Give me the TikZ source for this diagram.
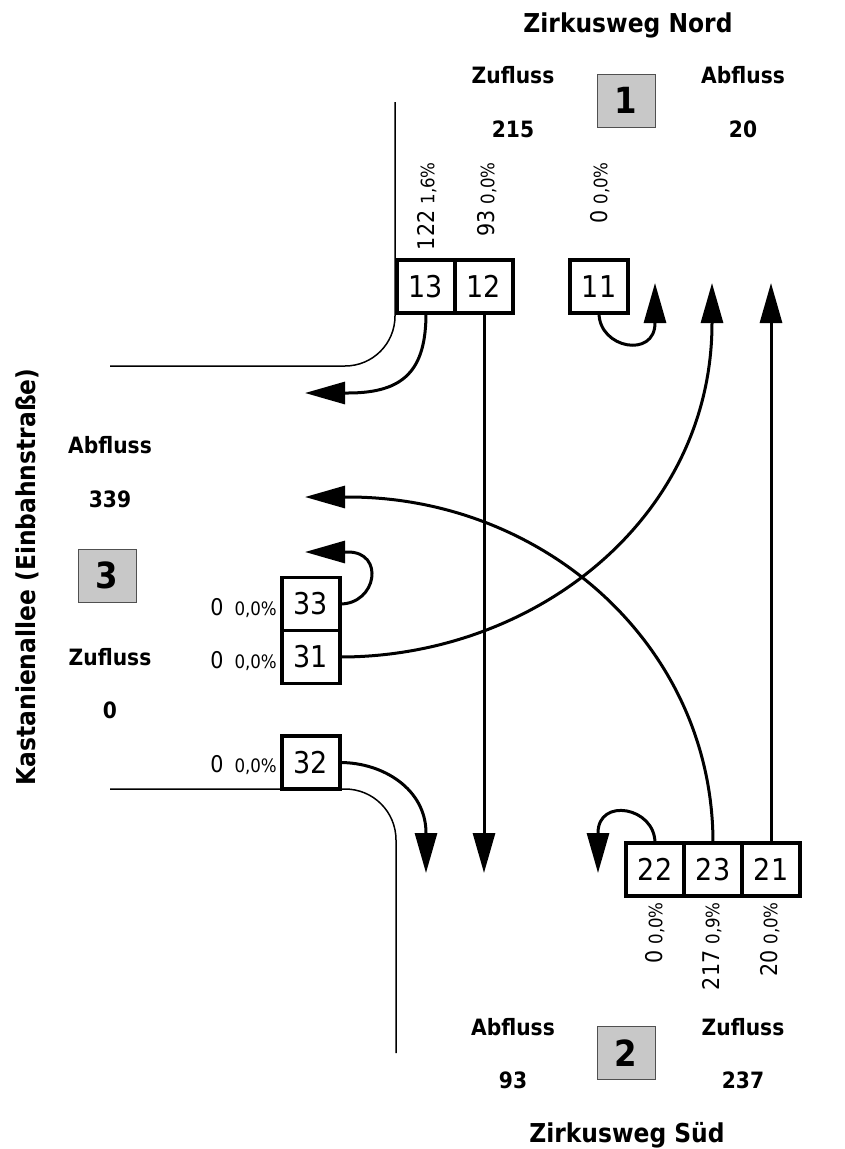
\documentclass[tikz,border=0pt]{standalone}
\usepackage{fontspec}
\setmainfont{DejaVu Sans}[FakeStretch=0.9]
\usetikzlibrary{arrows.meta,positioning}
\definecolor{ArmGray}{HTML}{C8C8C8}
\definecolor{ArmEdge}{HTML}{505050}
% vehicle count and heavy-traffic share, two sizes
\newcommand\cnt[3][6pt]{{\fontsize{23}{26}\selectfont #2}\hspace{#1}{\fontsize{18.5}{22}\selectfont #3}}

\begin{document}
\begin{tikzpicture}[x=1pt,y=1pt]
  \tikzset{
    lane/.style={draw,line width=3.5pt,fill=white,minimum width=58pt,minimum height=53pt,inner sep=0pt,outer sep=0pt,font=\fontsize{30}{32}\selectfont},
    arm/.style={draw=ArmEdge,fill=ArmGray,line width=1pt,minimum width=58pt,minimum height=53pt,inner sep=0pt,font=\fontsize{36}{38}\selectfont\bfseries},
    street/.style={font=\fontsize{26}{30}\selectfont\bfseries,inner sep=0pt,anchor=base},
    volume/.style={font=\fontsize{22.5}{26}\selectfont\bfseries,inner sep=0pt,anchor=base},
    share/.style={inner sep=0pt,rotate=90,anchor=east},
    road/.style={line width=1.5pt},
    flow/.style={line width=3pt,-{Triangle[length=40pt,width=22pt]}}
  }
  \useasboundingbox (0,0) rectangle (845,-1149);

  % kerb lines
  \draw[road] (395,-102) -- (395,-316) to[out=-90,in=0] (345,-366) -- (110,-366);
  \draw[road] (110,-789) -- (345,-789) to[out=0,in=90] (396,-840) -- (396,-1053);

  % street names
  \node[street] (nord) at (628,-32) {Zirkusweg Nord};
  \node[street] (sued) at (627,-1142) {Zirkusweg Süd};
  \node[street,rotate=90] (kast) at (35,-577) {Kastanienallee (Einbahnstraße)};

  % arms
  \node[arm] (arm1) at (626,-100.5) {1};
  \node[arm] (arm2) at (626,-1053) {2};
  \node[arm] (arm3) at (107,-575.5) {3};

  \node[volume] (zu1) at (513,-83) {Zufluss};
  \node[volume] (zu1v) at (513,-137) {215};
  \node[volume] (ab1) at (743,-83) {Abfluss};
  \node[volume] (ab1v) at (743,-137) {20};
  \node[volume] (ab2) at (513,-1035) {Abfluss};
  \node[volume] (ab2v) at (513,-1088) {93};
  \node[volume] (zu2) at (743,-1035) {Zufluss};
  \node[volume] (zu2v) at (743,-1088) {237};
  \node[volume] (ab3) at (110,-453) {Abfluss};
  \node[volume] (ab3v) at (110,-507) {339};
  \node[volume] (zu3) at (110,-665) {Zufluss};
  \node[volume] (zu3v) at (110,-718) {0};

  % lanes
  \node[lane] (l13) at (426,-286.5) {13};
  \node[lane,right=0pt of l13] (l12) {12};
  \node[lane] (l11) at (599,-286.5) {11};
  \node[lane] (l22) at (655,-869.5) {22};
  \node[lane,right=0pt of l22] (l23) {23};
  \node[lane,right=0pt of l23] (l21) {21};
  \node[lane] (l33) at (311,-604) {33};
  \node[lane,below=0pt of l33] (l31) {31};
  \node[lane] (l32) at (311,-762.5) {32};

  % counts per lane
  \node[share] (c13) at (427,-162) {\cnt{122}{1,6\%}};
  \node[share] (c12) at (487,-162) {\cnt{93}{0,0\%}};
  \node[share] (c11) at (600,-162) {\cnt{0}{0,0\%}};
  \node[share] (c22) at (655,-902) {\cnt{0}{0,0\%}};
  \node[share] (c23) at (712,-902) {\cnt{217}{0,9\%}};
  \node[share] (c21) at (770,-902) {\cnt{20}{0,0\%}};
  \node[inner sep=0pt,anchor=base east] (c33) at (277,-615) {\cnt[11pt]{0}{0,0\%}};
  \node[inner sep=0pt,anchor=base east] (c31) at (277,-668) {\cnt[11pt]{0}{0,0\%}};
  \node[inner sep=0pt,anchor=base east] (c32) at (277,-772) {\cnt[11pt]{0}{0,0\%}};

  % arrow ends
  \coordinate (e13) at (348,-393);  \coordinate (t13) at (305,-393);
  \coordinate (t12) at (484,-873);
  \coordinate (e11) at (655,-323);  \coordinate (t11) at (655,-283);
  \coordinate (e31) at (712,-323);  \coordinate (t31) at (712,-283);
  \coordinate (t21) at (771,-283);
  \coordinate (e23) at (348,-497);  \coordinate (t23) at (305,-497);
  \coordinate (e33) at (348,-552);  \coordinate (t33) at (305,-552);
  \coordinate (e22) at (598,-833);  \coordinate (t22) at (598,-873);
  \coordinate (e32) at (426,-833);  \coordinate (t32) at (426,-873);

  % turning movements
  \draw[flow] (l13.south) to[out=-90,in=0,looseness=1.3] (e13) -- (t13);
  \draw[flow] (l12.south) -- (t12);
  \draw[flow] (l11.south) to[out=-90,in=-90,looseness=1.6] (e11) -- (t11);
  \draw[flow] (l21.north) -- (t21);
  \draw[flow] (l23.north) to[out=90,in=0] (e23) -- (t23);
  \draw[flow] (l22.north) to[out=90,in=90,looseness=1.6] (e22) -- (t22);
  \draw[flow] (l31.east) to[out=0,in=-90] (e31) -- (t31);
  \draw[flow] (l33.east) to[out=0,in=0,looseness=1.8] (e33) -- (t33);
  \draw[flow] (l32.east) to[out=0,in=90] (e32) -- (t32);
\end{tikzpicture}
\end{document}
